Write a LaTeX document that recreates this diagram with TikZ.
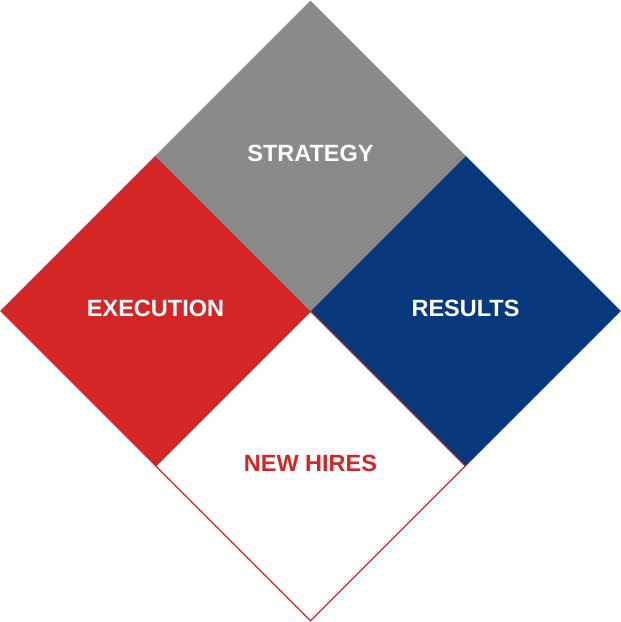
\documentclass[tikz,border=0pt]{standalone}
\usepackage{fontspec}
\setmainfont{Liberation Sans}
\usepackage{tikz}
\usetikzlibrary{shapes.geometric}
\usetikzlibrary{positioning}

\definecolor{hirered}{RGB}{211,38,39}
\definecolor{stratgray}{RGB}{138,138,138}
\definecolor{resblue}{RGB}{9,57,125}

\tikzset{
  tile/.style={diamond, aspect=1, inner sep=0pt, minimum width=311pt,
    minimum height=311pt},
  tilelabel/.style={inner sep=0pt, text=white,
    font=\fontsize{23.5}{24}\selectfont\bfseries},
}

\begin{document}
\begin{tikzpicture}[x=1pt, y=-1pt]

    \useasboundingbox (0, 0) rectangle (621, 622);

    \node [tile, fill=hirered] (execution) at (155.5, 311) {};
    \node [tile, fill=resblue] (results) at (465.5, 311) {};
    \node [tile, fill=stratgray] (strategy) at (310.5, 156) {};
    \node [tile, fill=white, draw=hirered, line width=1.2pt,
      minimum width=309.8pt, minimum height=309.8pt] (newhires) at (310.5, 466) {};

    \node [tilelabel] (strategytext) at ([yshift=3pt] strategy.center) {STRATEGY};
    \node [tilelabel] (executiontext) at ([yshift=3pt] execution.center) {EXECUTION};
    \node [tilelabel] (resultstext) at ([yshift=3pt] results.center) {RESULTS};
    \node [tilelabel, text=hirered] (newhirestext) at ([yshift=3pt] newhires.center) {NEW HIRES};

  \end{tikzpicture}
\end{document}
